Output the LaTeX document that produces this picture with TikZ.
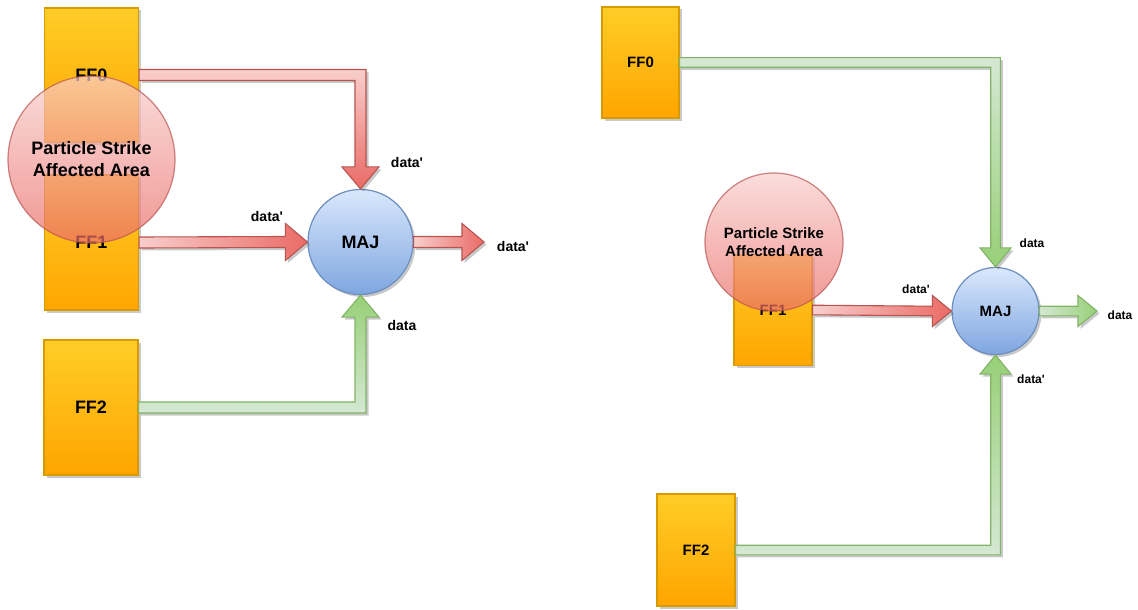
\documentclass[tikz,border=0pt]{standalone}
\usepackage{fontspec}
\setmainfont{Liberation Sans}
\usetikzlibrary{calc,shadows}

\definecolor{fftop}{HTML}{FFCD28}
\definecolor{ffbot}{HTML}{FFA500}
\definecolor{ffline}{HTML}{D79B00}
\definecolor{majtop}{HTML}{DAE8FC}
\definecolor{majbot}{HTML}{7EA6E0}
\definecolor{majline}{HTML}{6C8EBF}
\definecolor{redlight}{HTML}{F8CECC}
\definecolor{reddark}{HTML}{EA6B66}
\definecolor{redline}{HTML}{B85450}
\definecolor{grnlight}{HTML}{D5E8D4}
\definecolor{grndark}{HTML}{97D077}
\definecolor{grnline}{HTML}{82B366}

% fat arrow running straight to the right: #1 style, #2 start, #3 tip, #4 half body, #5 half head, #6 head length
\newcommand{\fatright}[6]{%
  \draw[#1] ($(#2)+(0,-#4)$) -- ($(#3)+(-#6,-#4)$) -- ($(#3)+(-#6,-#5)$) -- (#3)
    -- ($(#3)+(-#6,#5)$) -- ($(#3)+(-#6,#4)$) -- ($(#2)+(0,#4)$) -- cycle;}
% fat arrow going right, then down onto the tip
\newcommand{\fatdown}[6]{%
  \draw[#1] ($(#2)+(0,-#4)$) -- ($(#3 |- #2)+(#4,-#4)$) -- ($(#3)+(#4,-#6)$)
    -- ($(#3)+(#5,-#6)$) -- (#3) -- ($(#3)+(-#5,-#6)$) -- ($(#3)+(-#4,-#6)$)
    -- ($(#3 |- #2)+(-#4,#4)$) -- ($(#2)+(0,#4)$) -- cycle;}
% fat arrow going right, then up onto the tip
\newcommand{\fatup}[6]{%
  \draw[#1] ($(#2)+(0,#4)$) -- ($(#3 |- #2)+(#4,#4)$) -- ($(#3)+(#4,#6)$)
    -- ($(#3)+(#5,#6)$) -- (#3) -- ($(#3)+(-#5,#6)$) -- ($(#3)+(-#4,#6)$)
    -- ($(#3 |- #2)+(-#4,-#4)$) -- ($(#2)+(0,-#4)$) -- cycle;}

\tikzset{
  shade/.style={drop shadow={shadow xshift=2.5pt,shadow yshift=-2.5pt,opacity=.3,fill=black!70}},
  pathshade/.style={preaction={fill=black!70,opacity=.3,transform canvas={shift={(2.5pt,-2.5pt)}}}},
  bigfont/.style={font=\fontsize{18}{22}\selectfont\bfseries},
  midfont/.style={font=\fontsize{15}{18}\selectfont\bfseries},
  lblbig/.style={font=\fontsize{14}{17}\selectfont\bfseries, inner sep=0pt},
  lblsmall/.style={font=\fontsize{12}{14}\selectfont\bfseries, inner sep=0pt},
  ffbox/.style={rectangle, draw=ffline, line width=1.2pt, top color=fftop, bottom color=ffbot,
    inner sep=0pt, shade},
  majnode/.style={circle, draw=majline, line width=1.2pt, top color=majtop, bottom color=majbot,
    inner sep=0pt, shade},
  strike/.style={circle, draw=redline, line width=1.2pt, top color=redlight, bottom color=reddark,
    opacity=.7, text opacity=1, inner sep=0pt, align=center},
  redh/.style={draw=redline, line width=1.1pt, left color=redlight, right color=reddark, pathshade},
  redv/.style={draw=redline, line width=1.1pt, top color=redlight, bottom color=reddark, pathshade},
  grnh/.style={draw=grnline, line width=1.1pt, left color=grnlight, right color=grndark, pathshade},
  grnv/.style={draw=grnline, line width=1.1pt, top color=grnlight, bottom color=grndark, pathshade},
  grnup/.style={draw=grnline, line width=1.1pt, top color=grndark, bottom color=grnlight, pathshade},
}

\begin{document}
\begin{tikzpicture}[x=1pt,y=-1pt]
\useasboundingbox (0,0) rectangle (1138,610);

% ---------- unprotected case: FF0 and FF1 both hit ----------
\node[ffbox, bigfont, minimum width=94, minimum height=134] (lff0) at (91.5,75) {FF0};
\node[ffbox, bigfont, minimum width=94, minimum height=135] (lff1) at (91.5,242.5) {FF1};
\node[ffbox, bigfont, minimum width=94, minimum height=135] (lff2) at (91,407.5) {FF2};
\node[majnode, bigfont, minimum size=105] (lmaj) at (360.5,242) {MAJ};
\coordinate (lout) at (484,242);

\fatdown{redv}{lff0.east}{lmaj.north}{5.5}{18.5}{22}
\fatright{redh}{lff1.east}{lmaj.west}{5.5}{18.5}{22}
\fatup{grnup}{lff2.east}{lmaj.south}{5.5}{18.5}{22}
\fatright{redh}{lmaj.east}{lout}{5.5}{18.5}{22}

\node[strike, bigfont, minimum size=167] (lstrike) at (91.5,159.5) {Particle Strike\\Affected Area};

\node[lblbig] (ld0) at (407,162) {data\textquotesingle};
\node[lblbig] (ld1) at (267,216) {data\textquotesingle};
\node[lblbig] (ldo) at (513,246) {data\textquotesingle};
\node[lblbig] (ld2) at (402,325) {data};

% ---------- case with only FF1 hit ----------
\node[ffbox, midfont, minimum width=77, minimum height=111] (rff0) at (640.5,62.5) {FF0};
\node[ffbox, midfont, minimum width=78, minimum height=111] (rff1) at (773,310) {FF1};
\node[ffbox, midfont, minimum width=78, minimum height=112] (rff2) at (696,550) {FF2};
\node[majnode, midfont, minimum size=87] (rmaj) at (995.5,311) {MAJ};
\coordinate (rout) at (1097,311);

\fatdown{grnv}{rff0.east}{rmaj.north}{4.8}{15.5}{19}
\fatright{redh}{rff1.east}{rmaj.west}{4.8}{15.5}{19}
\fatup{grnup}{rff2.east}{rmaj.south}{4.8}{15.5}{19}
\fatright{grnh}{rmaj.east}{rout}{4.8}{15.5}{19}

\node[strike, midfont, minimum size=138] (rstrike) at (774,242) {Particle Strike\\Affected Area};

\node[lblsmall] (rd0) at (1032,243) {data};
\node[lblsmall] (rd1) at (916,289) {data\textquotesingle};
\node[lblsmall] (rdo) at (1120,315) {data};
\node[lblsmall] (rd2) at (1031,379) {data\textquotesingle};
\end{tikzpicture}
\end{document}
